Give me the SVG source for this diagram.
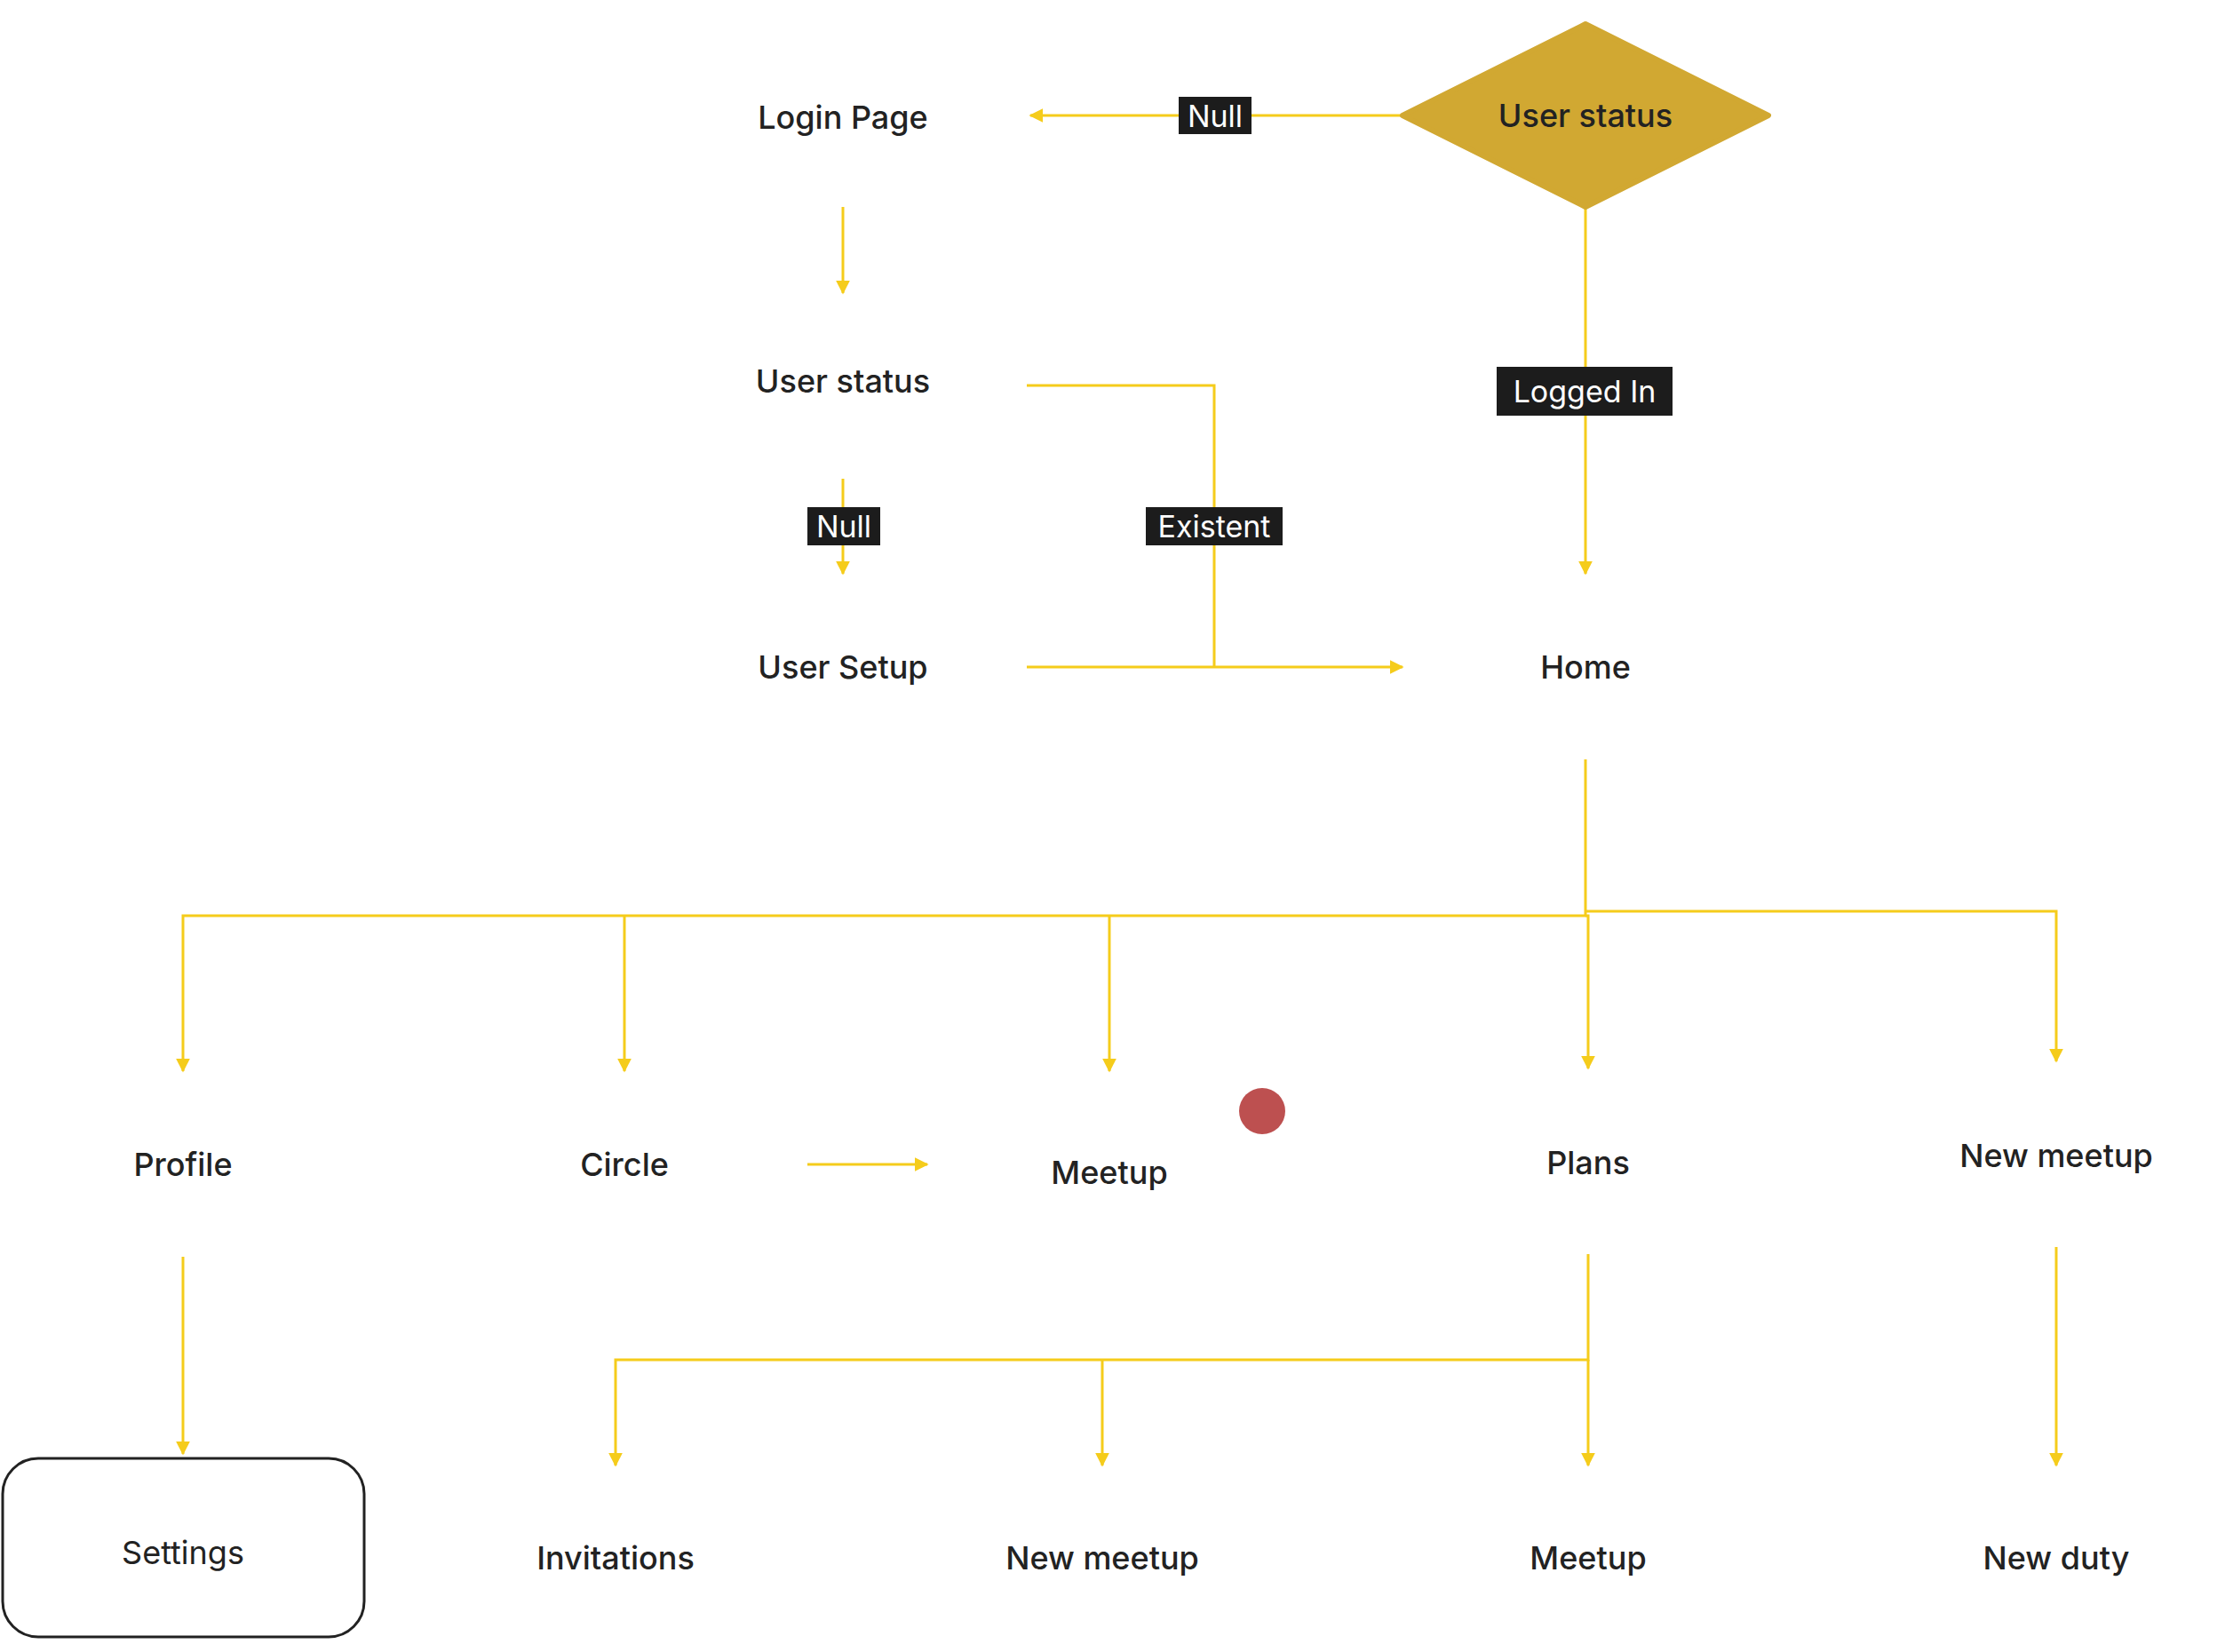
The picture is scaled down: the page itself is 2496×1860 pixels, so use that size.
<svg xmlns="http://www.w3.org/2000/svg" width="2496" height="1860" viewBox="0 0 2496 1860">
<style>
.t{font-family:Inter,"Open Sans",sans-serif;font-size:36px;font-weight:500;fill:#222;text-anchor:middle;dominant-baseline:central}
.c{fill:none;stroke:#F5CC1B;stroke-width:3}
.a{marker-end:url(#ah)}
.lb{fill:#1c1c1c}
.lt{font-family:Inter,"Open Sans",sans-serif;font-size:34px;fill:#fff;text-anchor:middle;dominant-baseline:central}
</style>
<defs>
<marker id="ah" viewBox="0 0 10 10" refX="9" refY="5" markerWidth="6" markerHeight="6" orient="auto" markerUnits="userSpaceOnUse"><path d="M0,0L10,5L0,10z" fill="#F5CC1B"/></marker>
<marker id="ah2" viewBox="0 0 10 10" refX="9" refY="5" markerWidth="16" markerHeight="16" orient="auto" markerUnits="userSpaceOnUse"><path d="M0,0L10,5L0,10z" fill="#F5CC1B"/></marker>
</defs>
<g id="connectors">
<path class="c" d="M1579,130H1160" marker-end="url(#ah2)"/>
<path class="c" d="M949,233V330" marker-end="url(#ah2)"/>
<path class="c" d="M949,539V646" marker-end="url(#ah2)"/>
<path class="c" d="M1156,434H1367V751"/>
<path class="c" d="M1156,751H1579" marker-end="url(#ah2)"/>
<path class="c" d="M1785,233V646" marker-end="url(#ah2)"/>
<path class="c" d="M1785,855V1031H206V1206" marker-end="url(#ah2)"/>
<path class="c" d="M703,1031V1206" marker-end="url(#ah2)"/>
<path class="c" d="M1249,1031V1206" marker-end="url(#ah2)"/>
<path class="c" d="M1785,1031H1788V1203" marker-end="url(#ah2)"/>
<path class="c" d="M1785,1026H2315V1195" marker-end="url(#ah2)"/>
<path class="c" d="M909,1311H1044" marker-end="url(#ah2)"/>
<path class="c" d="M206,1415V1637" marker-end="url(#ah2)"/>
<path class="c" d="M1788,1412V1531H693V1650" marker-end="url(#ah2)"/>
<path class="c" d="M1241,1531V1650" marker-end="url(#ah2)"/>
<path class="c" d="M1788,1531V1650" marker-end="url(#ah2)"/>
<path class="c" d="M2315,1404V1650" marker-end="url(#ah2)"/>
<rect class="lb" x="1327" y="109" width="82" height="42"/><text class="lt" x="1368" y="130">Null</text>
<rect class="lb" x="909" y="571" width="82" height="43"/><text class="lt" x="950" y="592">Null</text>
<rect class="lb" x="1290" y="571" width="154" height="43"/><text class="lt" x="1367" y="592">Existent</text>
<rect class="lb" x="1685" y="413" width="198" height="55"/><text class="lt" x="1784" y="440">Logged In</text>
</g>
<g id="n-status"><path d="M1785,27L1991,130L1785,233L1579,130Z" fill="#D1A832" stroke="#D1A832" stroke-width="6" stroke-linejoin="round"/><text class="t" x="1785" y="130">User status</text></g>
<g id="n-login"><text class="t" x="949" y="132">Login Page</text></g>
<g id="n-status2"><text class="t" x="949" y="429">User status</text></g>
<g id="n-setup"><text class="t" x="949" y="751">User Setup</text></g>
<g id="n-home"><text class="t" x="1785" y="751">Home</text></g>
<g id="n-profile"><text class="t" x="206" y="1311">Profile</text></g>
<g id="n-circle"><text class="t" x="703" y="1311">Circle</text></g>
<g id="n-meetup"><text class="t" x="1249" y="1320">Meetup</text></g>
<g id="n-dot"><circle cx="1421" cy="1251" r="26" fill="#BD5050"/></g>
<g id="n-plans"><text class="t" x="1788" y="1309">Plans</text></g>
<g id="n-newmeetup"><text class="t" x="2315" y="1301">New meetup</text></g>
<g id="n-settings"><rect x="3" y="1642" width="407" height="201" rx="40" fill="#fff" stroke="#222" stroke-width="3"/><text class="t" x="206" y="1748" style="font-weight:400">Settings</text></g>
<g id="n-inv"><text class="t" x="693" y="1754">Invitations</text></g>
<g id="n-newmeetup2"><text class="t" x="1241" y="1754">New meetup</text></g>
<g id="n-meetup2"><text class="t" x="1788" y="1754">Meetup</text></g>
<g id="n-duty"><text class="t" x="2315" y="1754">New duty</text></g>
</svg>
